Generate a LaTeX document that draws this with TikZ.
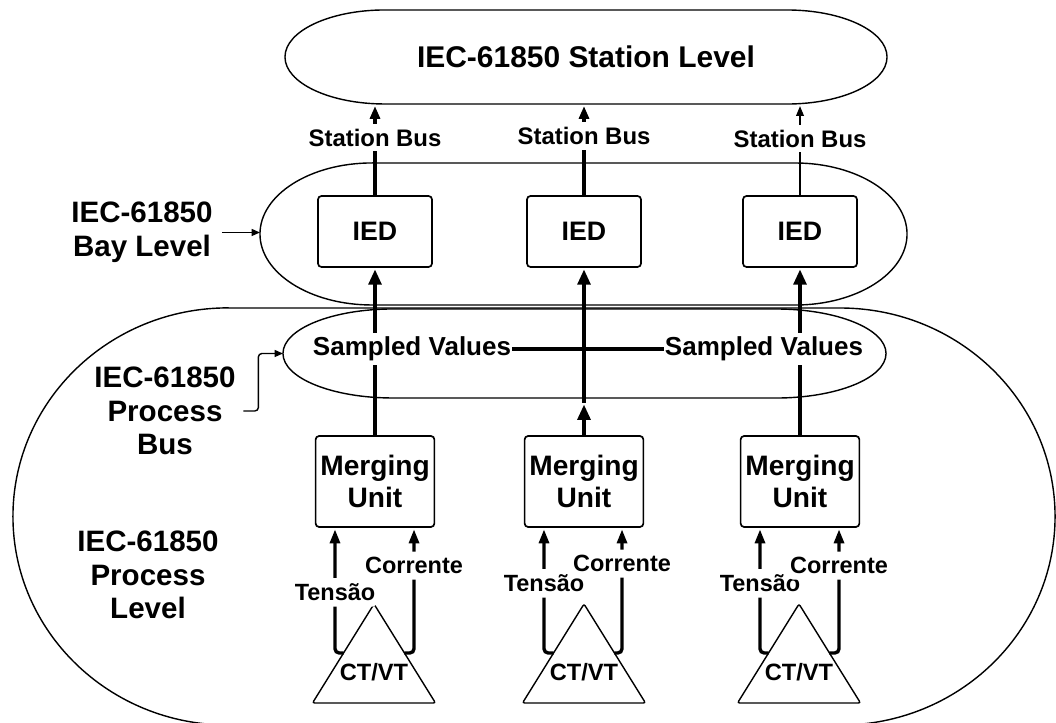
\documentclass[tikz,border=0pt]{standalone}
\usepackage{fontspec}
\setmainfont{Liberation Sans}
\usetikzlibrary{arrows.meta,calc}

\tikzset{
  shell/.style={line width=1pt},
  unitbox/.style={draw,line width=1.2pt,rounded corners=2.5pt,align=center},
  ied/.style={unitbox,minimum width=2.85cm,minimum height=1.775cm,font=\fontsize{19}{21}\selectfont\bfseries},
  merger/.style={unitbox,minimum width=2.825cm,minimum height=2.275cm,font=\fontsize{20}{22.8}\selectfont\bfseries},
  tag/.style={fill=white,inner xsep=1pt,inner ysep=3.5pt},
  sttag/.style={tag,font=\fontsize{17}{20}\selectfont\bfseries},
  svtag/.style={tag,inner xsep=0.5pt,inner ysep=3pt,font=\fontsize{18.5}{21}\selectfont\bfseries},
  sigtag/.style={tag,inner ysep=4pt,font=\fontsize{16.7}{19}\selectfont\bfseries},
  ctvt/.style={font=\fontsize{16.8}{19}\selectfont\bfseries},
  level/.style={align=center,font=\fontsize{21}{24}\selectfont\bfseries},
  svflow/.style={line width=2.9pt,-{Triangle[length=11pt,width=9pt]},shorten >=1pt},
  stflow/.style={line width=2.5pt,-{Triangle[length=9pt,width=7pt]},shorten >=1.5pt},
  wire/.style={line width=2.4pt,rounded corners=3pt,-{Triangle[length=10pt,width=7pt]},shorten >=1pt},
  pointer/.style={line width=1pt,rounded corners=2.5pt,-{Triangle[length=6pt,width=5pt]}},
}

\begin{document}
\begin{tikzpicture}[x=0.025cm,y=0.025cm]
    \useasboundingbox (0,0) rectangle (1056,722);

    % levels
    \draw[shell] (385,712) -- (787,712)
        arc[start angle=90,end angle=-90,x radius=2.5cm,y radius=1.175cm] -- (385,618)
        arc[start angle=270,end angle=90,x radius=2.5cm,y radius=1.175cm] -- cycle;
    \draw[shell] (372,559) -- (795,559)
        arc[start angle=90,end angle=-90,x radius=2.8cm,y radius=1.775cm] -- (372,417)
        arc[start angle=270,end angle=90,x radius=2.8cm,y radius=1.775cm] -- cycle;
    \draw[shell] (228,414) -- (840,414)
        arc[start angle=90,end angle=-90,x radius=5.375cm,y radius=5.2125cm] -- (228,-3)
        arc[start angle=270,end angle=90,x radius=5.375cm,y radius=5.2125cm] -- cycle;
    \draw[shell] (393,413) -- (776,413)
        arc[start angle=90,end angle=-90,x radius=2.75cm,y radius=1.1125cm] -- (393,324)
        arc[start angle=270,end angle=90,x radius=2.75cm,y radius=1.1125cm] -- cycle;

    \node[font=\fontsize{21.3}{24}\selectfont\bfseries] (station) at (586,665) {IEC-61850 Station Level};

    \coordinate (stabot) at (0,618);
    \coordinate (svbot) at (0,319);
    \coordinate (baytip) at (260,488);
    \coordinate (bustip) at (283,368.5);

    \node[ied] (ied1) at (375,490.5) {IED};
    \node[ied] (ied2) at (584,490.5) {IED};
    \node[ied] (ied3) at (800,490.5) {IED};

    \node[merger] (mu1) at (375,240.5) {Merging\\Unit};
    \node[merger] (mu2) at (584,240.5) {Merging\\Unit};
    \node[merger] (mu3) at (800,240.5) {Merging\\Unit};

    % instrument transformers
    \coordinate (ct1a) at (374,118);
    \coordinate (ct1l) at (312.5,19);
    \coordinate (ct1r) at (435.5,19);
    \coordinate (ct2a) at (584,118);
    \coordinate (ct2l) at (522.5,19);
    \coordinate (ct2r) at (645.5,19);
    \coordinate (ct3a) at (799,118);
    \coordinate (ct3l) at (737.5,19);
    \coordinate (ct3r) at (860.5,19);
    \draw[shell,rounded corners=1.5pt] (ct1a) -- (ct1r) -- (ct1l) -- cycle;
    \draw[shell,rounded corners=1.5pt] (ct2a) -- (ct2r) -- (ct2l) -- cycle;
    \draw[shell,rounded corners=1.5pt] (ct3a) -- (ct3r) -- (ct3l) -- cycle;
    \node[ctvt] (ct1) at (374,50) {CT/VT};
    \node[ctvt] (ct2) at (584,50) {CT/VT};
    \node[ctvt] (ct3) at (799,50) {CT/VT};

    % station bus
    \draw[stflow] (ied1.north) -- (ied1.north |- stabot) node[sttag,pos=0.63] (sb1) {Station Bus};
    \draw[stflow] (ied2.north) -- (ied2.north |- stabot) node[sttag,pos=0.65] (sb2) {Station Bus};
    \draw[stflow,line width=1pt,-{Triangle[length=7pt,width=5.5pt]}] (ied3.north) -- (ied3.north |- stabot)
        node[sttag,pos=0.62] (sb3) {Station Bus};

    % process bus
    \draw[svflow] (mu1.north) -- (ied1.south);
    \draw[svflow] (mu2.north) -- (mu2.north |- svbot);
    \draw[svflow] (mu2.north |- svbot) -- (ied2.south);
    \draw[svflow] (mu3.north) -- (ied3.south);
    \node[svtag] (sv1) at (412,373) {Sampled Values};
    \node[svtag] (sv2) at (764,373) {Sampled Values};
    \draw[line width=2.9pt] (sv1.east) -- (sv2.west);

    % analog signals
    \draw[wire] ($(ct1a)!0.495!(ct1l)$) -| ([xshift=-1cm]mu1.south) node[sigtag,pos=0.742] (ten1) {Tensão};
    \draw[wire] ($(ct1a)!0.495!(ct1r)$) -| ([xshift=0.975cm]mu1.south) node[sigtag,pos=0.849] (cor1) {Corrente};
    \draw[wire] ($(ct2a)!0.495!(ct2l)$) -| ([xshift=-1cm]mu2.south) node[sigtag,pos=0.778] (ten2) {Tensão};
    \draw[wire] ($(ct2a)!0.495!(ct2r)$) -| ([xshift=0.95cm]mu2.south) node[sigtag,pos=0.857] (cor2) {Corrente};
    \draw[wire] ($(ct3a)!0.495!(ct3l)$) -| ([xshift=-1cm]mu3.south) node[sigtag,pos=0.778] (ten3) {Tensão};
    \draw[wire] ($(ct3a)!0.495!(ct3r)$) -| ([xshift=0.975cm]mu3.south) node[sigtag,pos=0.849] (cor3) {Corrente};

    % level names
    \node[level] (bayl) at (142,489.5) {IEC-61850\\Bay Level};
    \node[level] (pbl) at (165,311) {IEC-61850\\Process\\Bus};
    \node[level] (pll) at (148,147) {IEC-61850\\Process\\Level};
    \draw[pointer] ([xshift=3pt]bayl.east) -- (bayl.east -| baytip);
    \draw[pointer] ([xshift=2pt]pbl.east) -- ++(15,0) |- (bustip);
\end{tikzpicture}
\end{document}
